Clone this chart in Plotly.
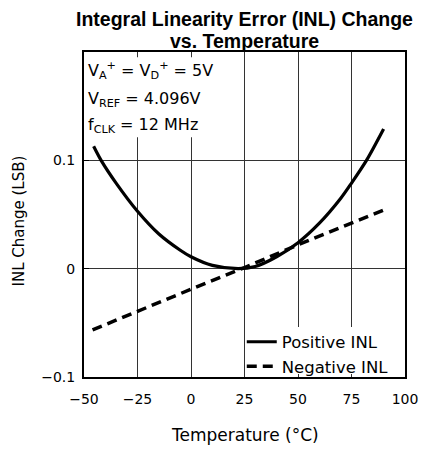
import plotly.graph_objects as go

# Data
temp_pos = [-45.5, -42, -35, -25, -15, -5, 0, 10, 22, 30, 40, 50, 60, 70, 75, 82, 90]
inl_pos = [0.113, 0.100, 0.079, 0.053, 0.032, 0.017, 0.011, 0.003, 0.0, 0.002, 0.011,
           0.024, 0.042, 0.065, 0.079, 0.100, 0.129]

temp_neg = [-46, -25, 0, 25, 50, 75, 90]
inl_neg = [-0.0565, -0.039, -0.019, 0.001, 0.022, 0.042, 0.054]

x_ticks = [-50, -25, 0, 25, 50, 75, 100]
y_ticks = [-0.1, 0, 0.1]
y_ticklabels = ["\u22120.1", "0", "0.1"]

conditions = [
    "V<sub>A</sub><sup>+</sup> = V<sub>D</sub><sup>+</sup> = 5V",
    "V<sub>REF</sub> = 4.096V",
    "f<sub>CLK</sub> = 12 MHz",
]

TICKFONT = dict(family="DejaVu Sans", size=14, color="black")

fig = go.Figure()
fig.add_trace(go.Scatter(x=temp_pos, y=inl_pos, mode="lines", name="Positive INL",
                         line=dict(color="black", width=3.2, shape="spline", smoothing=0.8)))
fig.add_trace(go.Scatter(x=temp_neg, y=inl_neg, mode="lines", name="Negative INL",
                         line=dict(color="black", width=3.5, dash="10px,6px")))

fig.update_layout(
    width=430, height=451,
    margin=dict(l=84, r=22, t=52, b=74),
    paper_bgcolor="white", plot_bgcolor="white",
    showlegend=True,
    legend=dict(x=0.965, y=-0.02, xanchor="right", yanchor="bottom",
                bgcolor="rgba(0,0,0,0)",
                font=dict(family="DejaVu Sans", size=16.5, color="black"),
                itemwidth=30, tracegroupgap=0),
    font=TICKFONT,
)

fig.update_xaxes(range=[-50, 100], tickvals=x_ticks, showgrid=True,
                 gridcolor="#333", gridwidth=1, showline=True, linecolor="black",
                 linewidth=2, mirror=True, ticks="", tickfont=TICKFONT,
                 zeroline=False, ticklabelstandoff=8)
fig.update_yaxes(range=[-0.1, 0.2], tickvals=y_ticks, ticktext=y_ticklabels,
                 showgrid=True, gridcolor="#333", gridwidth=1, showline=True,
                 linecolor="black", linewidth=2, mirror=True, ticks="inside",
                 ticklen=5, tickcolor="black", tickfont=TICKFONT, zeroline=False,
                 ticklabelstandoff=4)

# Title (two lines, tightly spaced)
fig.add_annotation(text="<b>Integral Linearity Error (INL) Change</b>", xref="paper",
                   yref="paper", x=0.5, y=1.103, xanchor="center", yanchor="middle",
                   showarrow=False,
                   font=dict(family="Liberation Sans", size=19.5, color="black"))
fig.add_annotation(text="<b>vs. Temperature</b>", xref="paper", yref="paper",
                   x=0.5, y=1.034, xanchor="center", yanchor="middle", showarrow=False,
                   font=dict(family="Liberation Sans", size=19.5, color="black"))

# Axis titles
fig.add_annotation(text="INL Change (LSB)", xref="paper", yref="paper",
                   x=-0.204, y=0.48, xanchor="center", yanchor="middle",
                   textangle=-90, showarrow=False,
                   font=dict(family="DejaVu Sans", size=15, color="black"))
fig.add_annotation(text="Temperature (\u00b0C)", xref="paper", yref="paper",
                   x=0.5, y=-0.178, xanchor="center", yanchor="middle",
                   showarrow=False, font=dict(family="DejaVu Sans", size=17, color="black"))

# Conditions box: white background covering grid lines, then three text lines
fig.add_shape(type="rect", xref="paper", yref="paper", x0=0.006, x1=0.405,
              y0=0.738, y1=0.984, fillcolor="white", line_width=0, layer="above")
for txt, yy in zip(conditions, [0.943, 0.853, 0.775]):
    fig.add_annotation(text=txt, xref="paper", yref="paper", x=0.005, y=yy,
                       xanchor="left", yanchor="middle", align="left", showarrow=False,
                       font=dict(family="DejaVu Sans", size=16, color="black"))

# White area behind the legend that hides the grid lines
fig.add_shape(type="rect", xref="paper", yref="paper", x0=0.528, x1=0.96,
              y0=0.009, y1=0.154, fillcolor="white", line_width=0, layer="above")

fig.write_html("out.html", config={"displayModeBar": False},
               post_script="document.body.style.margin='0';")
